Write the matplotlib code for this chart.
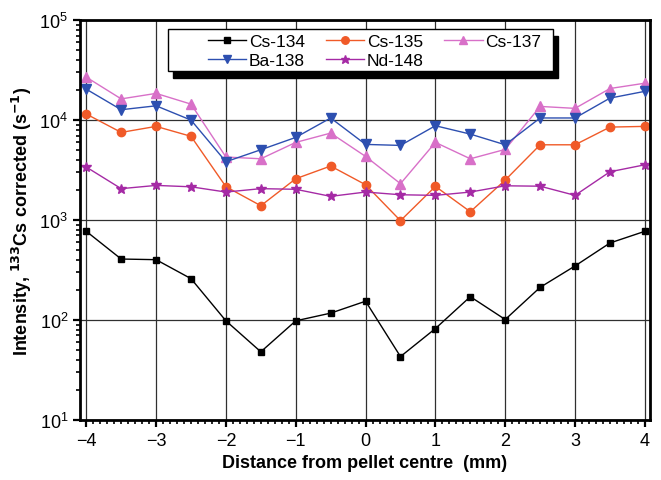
import numpy as np
import matplotlib
matplotlib.use("Agg")
import matplotlib.pyplot as plt
from matplotlib.patches import Rectangle
from matplotlib.ticker import LogLocator, MultipleLocator, NullFormatter

plt.rcParams['font.family'] = ['Liberation Sans', 'DejaVu Sans']

distance = [-4, -3.5, -3, -2.5, -2, -1.5, -1, -0.5, 0, 0.5, 1, 1.5, 2, 2.5, 3, 3.5, 4]

cs134 = [771, 407, 401, 259, 98, 48, 98, 117, 154, 43, 82, 171, 101, 212, 347, 589, 771]
cs135 = [11500, 7530, 8650, 6880, 2155, 1390, 2590, 3470, 2255, 985, 2170, 1210, 2510, 5660, 5660, 8510, 8650]
cs137 = [26900, 16300, 18500, 14450, 4270, 4100, 5980, 7410, 4330, 2310, 5980, 4100, 5090, 13700, 13100, 20700, 23400]
ba138 = [20400, 12700, 13900, 10000, 3830, 5050, 6710, 10500, 5710, 5580, 8780, 7240, 5660, 10500, 10500, 16600, 19400]
nd148 = [3390, 2060, 2220, 2150, 1905, 2060, 2030, 1725, 1905, 1790, 1765, 1905, 2200, 2180, 1765, 3040, 3570]

fig = plt.figure(figsize=(6.61, 4.81), dpi=100)
ax = fig.add_axes([0.121, 0.125, 0.862, 0.831])

l1, = ax.plot(distance, cs134, '-s', color='black', lw=1, ms=5, label='Cs-134')
l2, = ax.plot(distance, cs135, '-o', color='#f05a28', lw=1, ms=6, label='Cs-135')
l3, = ax.plot(distance, cs137, '-^', color='#d870c8', lw=1, ms=7, label='Cs-137')
l4, = ax.plot(distance, ba138, '-v', color='#2d4fb0', lw=1, ms=7, label='Ba-138')
l5, = ax.plot(distance, nd148, '-*', color='#a52aa5', lw=1, ms=7, label='Nd-148')

ax.set_yscale('log')
ax.set_ylim(10, 1e5)
ax.set_xlim(-4.09, 4.07)
ax.xaxis.set_major_locator(MultipleLocator(1))
ax.xaxis.set_minor_locator(MultipleLocator(0.1))
ax.yaxis.set_major_locator(LogLocator(base=10, numticks=10))
ax.yaxis.set_minor_locator(LogLocator(base=10, subs=np.arange(2, 10), numticks=10))
ax.yaxis.set_minor_formatter(NullFormatter())
ax.grid(True, which='major', color='#303030', lw=0.9)

for s in ax.spines.values():
    s.set_linewidth(2)
ax.tick_params(which='major', direction='out', length=5, width=1.6, labelsize=13)
ax.tick_params(which='minor', direction='out', length=3, width=1.2)

ax.set_xlabel('Distance from pellet centre  (mm)', fontsize=13, fontweight='bold', labelpad=4)
ax.set_ylabel(r'Intensity, $^{\mathbf{133}}$Cs corrected (s$^{\mathbf{-1}}$)',
              fontsize=13, fontweight='bold', labelpad=4)

# legend box with a solid black shadow, drawn by hand (the original has a wide left margin)
bx, by, bw, bh = 0.1538, 0.8725, 0.6767, 0.105
ax.add_patch(Rectangle((bx + 0.009, by - 0.016), bw, bh, transform=ax.transAxes,
                       facecolor='black', edgecolor='black', zorder=4.4))
ax.add_patch(Rectangle((bx, by), bw, bh, transform=ax.transAxes,
                       facecolor='white', edgecolor='black', lw=1, zorder=4.5))

# row-wise order in a 3-column legend
handles = [l1, l4, l2, l5, l3]
leg = ax.legend(handles, [h.get_label() for h in handles], ncol=3, loc='upper left',
                bbox_to_anchor=(0.216, 0.978), fontsize=12.5, frameon=False,
                handlelength=2.2, columnspacing=1.2, handletextpad=0.15,
                borderpad=0.3, labelspacing=0.22, borderaxespad=0, markerscale=0.9)
leg.set_zorder(5)

fig.savefig('out.png', dpi=100)
